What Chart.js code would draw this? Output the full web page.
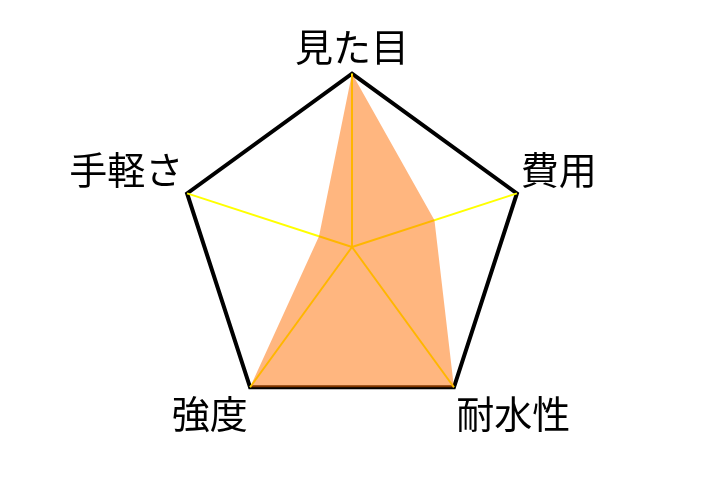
<!DOCTYPE html>
<html>
<head>
<meta charset="utf-8">
<script src="https://cdn.jsdelivr.net/npm/chart.js@4"></script>
<style>
  html, body { margin: 0; padding: 0; background: #fff; }
  #wrap { width: 720px; height: 480px; }
</style>
</head>
<body>
<div id="wrap"><canvas id="myChart"></canvas></div>
<script>
const labels = ['見た目', '費用', '耐水性', '強度', '手軽さ'];
const scores = [5, 2.5, 5, 5, 1];
const scaleMax = 5;

const ctx = document.getElementById('myChart').getContext('2d');
var myChart = new Chart(ctx, {
    type: 'radar',
    data: {
        labels: labels,
        datasets: [{
            label: '評価',
            data: scores,
            backgroundColor: 'rgba(255, 110, 0, 0.5)',
            borderColor: 'rgba(255, 255, 255, 0)',
            borderWidth: 0,
            pointRadius: 0
        }]
    },
    options: {
        responsive: true,
        maintainAspectRatio: false,
        animation: false,
        layout: { padding: { top: 4, bottom: 30, right: 16 } },
        plugins: {
            legend: { display: false },
            tooltip: { enabled: false }
        },
        scales: {
            r: {
                min: 0,
                max: scaleMax,
                ticks: { display: false, stepSize: scaleMax },
                grid: { color: '#000', lineWidth: 4 },
                angleLines: { color: '#ffff00', lineWidth: 2 },
                pointLabels: {
                    color: '#000',
                    padding: 4,
                    font: { family: '"Noto Sans CJK JP"', size: 38 }
                }
            }
        }
    }
});
</script>
</body>
</html>
